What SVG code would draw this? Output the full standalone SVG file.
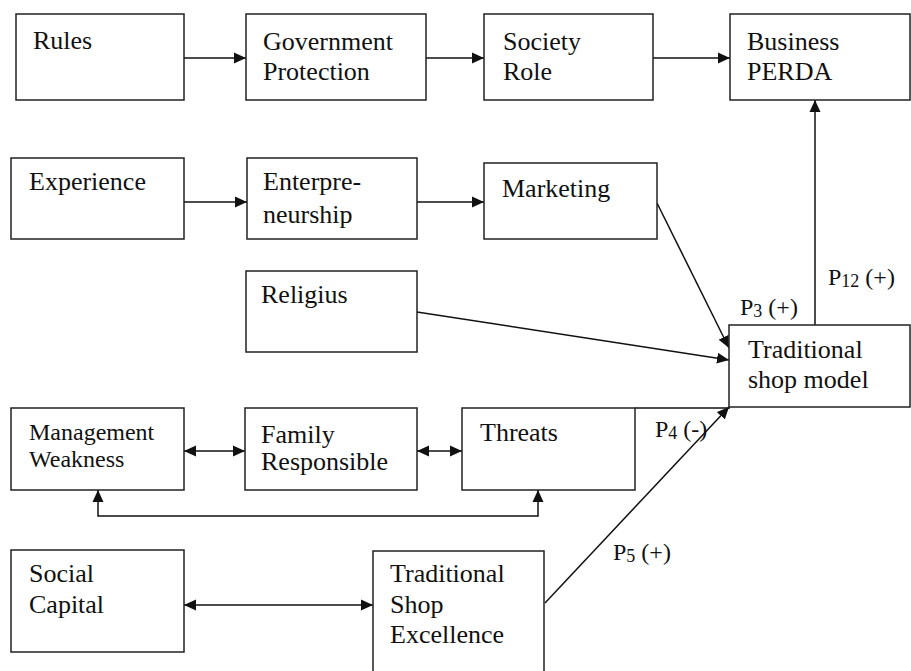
<svg xmlns="http://www.w3.org/2000/svg" width="911" height="671" viewBox="0 0 911 671" font-family="'Liberation Serif','Times New Roman',serif">
<style>
rect{fill:#fff;stroke:#222;stroke-width:1.5}
text{font-family:"Liberation Serif","Times New Roman",serif;font-size:26px;fill:#111}
.sm{font-size:24px}
.lbl{font-size:24px}
.c line,.c path{stroke:#111;stroke-width:1.5;fill:none}
</style>
<defs>
<marker id="ah" viewBox="0 0 12 12" refX="12" refY="6" markerWidth="12" markerHeight="12" markerUnits="userSpaceOnUse" orient="auto-start-reverse"><path d="M0,0.5 L12,6 L0,11.5 z" fill="#111"/></marker>
</defs>
<rect x="0" y="0" width="911" height="671" style="stroke:none"/>
<g class="c" id="connectors">
<line x1="184" y1="58" x2="246" y2="58" marker-end="url(#ah)"/>
<line x1="426" y1="58" x2="484" y2="58" marker-end="url(#ah)"/>
<line x1="653" y1="58" x2="730" y2="58" marker-end="url(#ah)"/>
<line x1="184" y1="202" x2="247" y2="202" marker-end="url(#ah)"/>
<line x1="417" y1="202" x2="484" y2="202" marker-end="url(#ah)"/>
<line x1="657" y1="203" x2="729" y2="348" marker-end="url(#ah)"/>
<line x1="417" y1="312" x2="729" y2="360" marker-end="url(#ah)"/>
<line x1="815" y1="325" x2="815" y2="100" marker-end="url(#ah)"/>
<line x1="635" y1="408" x2="730" y2="408"/>
<line x1="545" y1="603" x2="729" y2="407" marker-end="url(#ah)"/>
<line x1="184" y1="451" x2="245" y2="451" marker-start="url(#ah)" marker-end="url(#ah)"/>
<line x1="417" y1="451" x2="462" y2="451" marker-start="url(#ah)" marker-end="url(#ah)"/>
<path d="M98,490 L98,516 L538,516 L538,490" marker-start="url(#ah)" marker-end="url(#ah)"/>
<line x1="184" y1="605" x2="373" y2="605" marker-start="url(#ah)" marker-end="url(#ah)"/>
</g>
<g id="rules"><rect x="16" y="14" width="168" height="86"/><text x="33" y="49">Rules</text></g>
<g id="government"><rect x="246" y="14" width="180" height="86"/><text x="263" y="50">Government</text><text x="263" y="80">Protection</text></g>
<g id="society"><rect x="484" y="14" width="169" height="86"/><text x="503" y="50">Society</text><text x="503" y="80">Role</text></g>
<g id="business"><rect x="730" y="14" width="180" height="86"/><text x="747" y="50">Business</text><text x="747" y="80">PERDA</text></g>
<g id="experience"><rect x="11" y="158" width="173" height="81"/><text x="29" y="190">Experience</text></g>
<g id="enterpreneurship"><rect x="247" y="158" width="170" height="81"/><text x="263" y="190">Enterpre-</text><text x="263" y="223">neurship</text></g>
<g id="marketing"><rect x="484" y="163" width="173" height="76"/><text x="502" y="197">Marketing</text></g>
<g id="religius"><rect x="246" y="271" width="171" height="81"/><text x="261" y="303">Religius</text></g>
<g id="traditional-shop-model"><rect x="729" y="325" width="181" height="82"/><text x="748" y="358">Traditional</text><text x="748" y="388">shop model</text></g>
<g id="management"><rect x="11" y="408" width="173" height="82"/><text class="sm" x="29" y="440">Management</text><text class="sm" x="29" y="467">Weakness</text></g>
<g id="family"><rect x="245" y="408" width="172" height="82"/><text x="261" y="443">Family</text><text x="261" y="470">Responsible</text></g>
<g id="threats"><rect x="462" y="408" width="173" height="82"/><text x="480" y="441">Threats</text></g>
<g id="social-capital"><rect x="11" y="550" width="173" height="102"/><text x="29" y="582">Social</text><text x="29" y="613">Capital</text></g>
<g id="shop-excellence"><rect x="373" y="551" width="171" height="140"/><text x="390" y="582">Traditional</text><text x="390" y="613">Shop</text><text x="390" y="643">Excellence</text></g>
<g id="labels">
<text class="lbl" x="740" y="315">P<tspan font-size="18" dy="2">3</tspan><tspan dy="-2"> (+)</tspan></text>
<text class="lbl" x="828" y="285">P<tspan font-size="18" dy="2">12</tspan><tspan dy="-2"> (+)</tspan></text>
<text class="lbl" x="655" y="437">P<tspan font-size="18" dy="2">4</tspan><tspan dy="-2"> (-)</tspan></text>
<text class="lbl" x="613" y="560">P<tspan font-size="18" dy="2">5</tspan><tspan dy="-2"> (+)</tspan></text>
</g>
</svg>
